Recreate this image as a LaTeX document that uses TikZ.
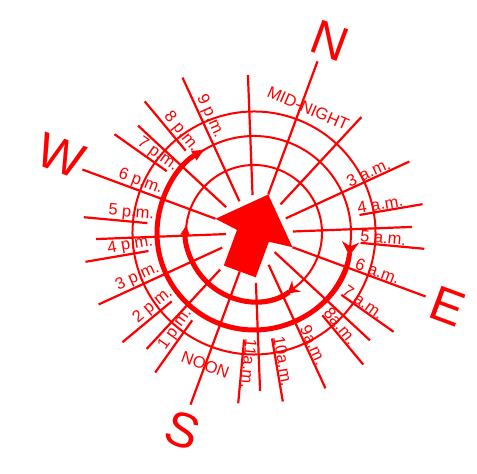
\documentclass[tikz,border=0pt]{standalone}
\usepackage{fontspec}
\setmainfont{Liberation Sans}
\usetikzlibrary{arrows.meta}
\definecolor{rd}{RGB}{255,0,0}
\begin{document}
\begin{tikzpicture}[x=1pt,y=1pt,
  rayline/.style={draw=rd, line width=2.2pt},
  ringline/.style={draw=rd, line width=2pt},
  thickarc/.style={draw=rd, line width=5pt},
  hourlbl/.style={text=rd, font=\fontsize{16.5}{16.5}\selectfont, inner sep=1pt},
  compasslbl/.style={text=rd, font=\fontsize{49}{49}\selectfont, inner sep=0pt},
]
\useasboundingbox (0,0) rectangle (477,474);
\begin{scope}[shift={(254,241)}, rotate=-20.3]
  % rings
  \draw[ringline] (0,0) circle[radius=68];
  \draw[ringline] (0,0) circle[radius=97];
  \draw[ringline] (0,0) circle[radius=121.5];
  % rays
  \foreach \h/\ri/\ro in {0/41/183, 6/41/183, 12/41/183, 18/41/183,
     3/35/171, 9/35/171, 15/35/171, 21/35/171,
     1.5/39/158, 4.5/39/158, 7.5/28/158, 10.5/50/158, 13.5/50/158, 16.5/28/158, 19.5/38/158, 22.5/38/158,
     4/107/171, 5/107/171, 7/107/171, 8/107/171, 10/107/171, 11/107/171,
     13/107/171, 14/107/171, 16/107/171, 17/107/171, 19/107/171, 20/107/171}
    \draw[rayline] ({90-15*\h}:\ri) -- ({90-15*\h}:\ro);
  % sun path arcs
  \draw[thickarc, {Stealth[reversed, length=14pt, width=17pt, inset=4.5pt]}-{Latex[length=14pt, width=12pt]}]
    (15:97) arc[start angle=15, end angle=-220, radius=97];
  \draw[thickarc, {Stealth[reversed, length=12pt, width=14pt, inset=4pt]}-{Latex[length=12pt, width=10pt]}]
    (-31:68) arc[start angle=-31, end angle=-168, radius=68];
  % central arrow
  \fill[rd] (0,41) -- (41,0) -- (17,-3) -- (17,-41) -- (-17,-41) -- (-17,-3) -- (-41,0) -- cycle;
  % hour labels a.m.
  \foreach \h/\t in {3/3 a.m., 4/4 a.m., 5/5 a.m., 6/6 a.m., 7/7 a.m., 8/8a.m., 9/9a.m., 10/10a.m., 11/11a.m.}
    \node[hourlbl, anchor=south west, rotate={90-15*\h-20.3}] (am\h) at ({90-15*\h}:105) {\t};
  % hour labels p.m.
  \foreach \h/\t in {13/1 p.m., 14/2 p.m., 15/3 p.m., 16/4 p.m., 17/5 p.m., 18/6 p.m., 19/7 p.m., 20/8 p.m., 21/9 p.m.}
    \node[hourlbl, anchor=south east, rotate={90-15*\h-20.3+180}] (pm\h) at ({90-15*\h}:100) {\t};
  \node[hourlbl, rotate=-23.5] (midnight) at (86.8:136) {MID-NIGHT};
  \node[hourlbl, rotate=-20.3] (noon) at (270:140.5) {NOON};
  % compass letters
  \node[compasslbl, rotate=-20.3] (north) at (88.7:206.5) {N};
  \node[compasslbl, rotate=-20.3] (east) at (-0.5:207) {E};
  \node[compasslbl, rotate=-20.3] (south) at (270.3:210) {S};
  \node[compasslbl, rotate=-20.3] (west) at (178.5:208) {W};
\end{scope}
\end{tikzpicture}
\end{document}
